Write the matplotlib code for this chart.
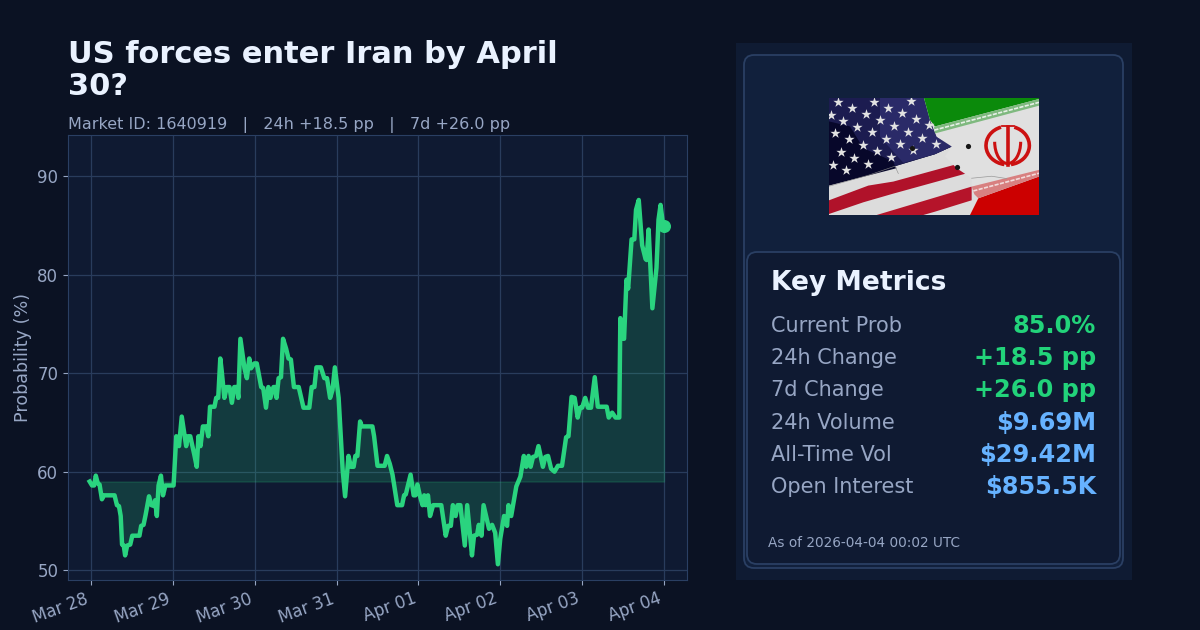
import matplotlib
matplotlib.use('Agg')
import matplotlib.pyplot as plt
import matplotlib.dates as mdates
from matplotlib.patches import FancyBboxPatch, Polygon, Rectangle, Arc
import pandas as pd

# hours after Mar 28 00:00
hours = [-0.4, 0.3, 0.9, 1.4, 2.0, 2.5, 3.2, 3.8, 4.5, 6.9, 7.6, 8.2, 8.7, 9.1, 9.6, 10.0, 10.6, 11.5, 12.1, 14.2,
         14.7, 15.4, 16.0, 17.0, 17.7, 18.6, 18.8, 19.3, 19.8, 20.5, 21.1, 21.8, 24.2, 25.0, 25.8, 26.6, 27.9, 28.4, 29.1, 30.3,
         31.0, 31.5, 32.1, 32.8, 33.8, 34.4, 34.9, 36.2, 36.7, 37.3, 37.9, 38.3, 39.1, 39.8, 40.6, 41.3, 42.0, 42.8, 43.2, 43.8,
         45.0, 45.7, 46.4, 46.9, 47.9, 48.6, 49.9, 50.5, 51.3, 52.0, 52.6, 53.5, 54.0, 54.4, 55.0, 55.7, 56.3, 57.2, 57.9, 58.6,
         59.5, 60.9, 62.3, 64.0, 64.7, 65.5, 66.1, 67.4, 68.4, 69.2, 70.1, 70.8, 71.5, 72.6, 73.8, 74.5, 75.5, 76.2, 77.0, 77.5,
         78.1, 78.9, 79.4, 82.5, 83.0, 84.0, 86.1, 86.8, 87.6, 88.4, 89.8, 91.2, 91.8, 92.3, 93.7, 94.6, 95.1, 95.7, 96.4, 97.2,
         97.7, 98.1, 98.8, 99.4, 100.3, 102.7, 104.0, 104.7, 105.5, 106.1, 106.9, 107.5, 108.3, 109.6, 110.3, 111.7, 112.3, 113.2, 113.7, 114.5,
         115.1, 116.7, 117.6, 118.5, 119.3, 120.0, 121.1, 122.0, 122.4, 123.2, 124.7, 125.9, 126.9, 127.6, 128.3, 128.9, 129.6, 130.5, 131.2, 132.5,
         133.2, 134.0, 134.9, 135.9, 136.9, 138.1, 139.3, 140.0, 140.9, 141.8, 142.7, 143.4, 144.0, 144.9, 145.7, 146.6, 147.7, 148.6, 151.2, 151.8,
         152.8, 153.8, 154.9, 155.2, 155.9, 156.3, 157.0, 157.5, 158.5, 159.3, 159.8, 160.6, 161.6, 162.6, 162.9, 163.5, 164.6, 165.8, 166.4, 167.0,
         167.6, 168.0]
probs = [59.0, 58.6, 58.6, 59.6, 58.8, 58.7, 57.2, 57.6, 57.6, 57.6, 56.6, 56.5, 55.5, 52.6, 52.5, 51.5, 52.5, 52.6, 53.5, 53.5,
         54.5, 54.6, 55.6, 57.5, 56.6, 56.5, 57.1, 55.5, 58.6, 59.6, 57.6, 58.6, 58.6, 63.6, 62.6, 65.6, 62.6, 63.6, 63.6, 61.7,
         60.5, 63.6, 62.6, 64.6, 64.6, 63.6, 66.6, 66.6, 67.5, 67.5, 71.5, 70.3, 67.5, 68.6, 68.6, 67.0, 68.6, 68.6, 67.5, 73.5,
         70.5, 69.5, 71.5, 70.5, 71.0, 71.0, 68.6, 68.5, 66.5, 68.6, 67.5, 68.6, 68.6, 67.5, 69.5, 69.6, 73.5, 72.5, 71.5, 71.4,
         68.6, 68.6, 66.5, 66.5, 68.6, 68.6, 70.6, 70.6, 69.5, 69.5, 67.5, 68.3, 70.6, 67.5, 60.1, 57.5, 61.6, 60.5, 60.5, 61.6,
         61.6, 65.1, 64.6, 64.6, 63.6, 60.6, 60.6, 61.6, 60.8, 59.7, 56.6, 56.6, 57.6, 57.7, 59.7, 57.6, 57.6, 58.7, 57.6, 56.6,
         57.6, 56.6, 57.6, 55.5, 56.6, 56.6, 53.5, 54.5, 54.5, 56.6, 55.5, 56.6, 56.6, 52.5, 56.6, 51.5, 53.5, 53.6, 54.6, 53.5,
         56.6, 54.2, 54.6, 53.8, 50.6, 53.2, 55.5, 54.5, 56.6, 55.5, 58.5, 59.5, 61.6, 60.5, 61.6, 60.5, 61.5, 61.6, 62.6, 60.5,
         61.5, 61.6, 60.3, 60.0, 60.6, 60.6, 63.5, 63.6, 67.6, 67.5, 65.5, 66.5, 66.5, 67.5, 66.5, 66.5, 69.6, 66.6, 66.6, 65.5,
         66.0, 65.5, 65.5, 75.6, 73.5, 73.5, 79.5, 78.6, 83.6, 83.6, 86.6, 87.6, 83.0, 81.6, 81.5, 84.6, 76.6, 80.7, 85.6, 87.1,
         85.4, 85.0]
baseline = 59.0
tick_days = ['2026-03-28', '2026-03-29', '2026-03-30', '2026-03-31', '2026-04-01', '2026-04-02', '2026-04-03', '2026-04-04']
y_ticks = [50, 60, 70, 80, 90]
metric_names = ['Current Prob', '24h Change', '7d Change', '24h Volume', 'All-Time Vol', 'Open Interest']
metric_values = ['85.0%', '+18.5 pp', '+26.0 pp', '$9.69M', '$29.42M', '$855.5K']

BG = '#0b1223'
PLOT_BG = '#0f1a32'
CARD = '#11203c'
PANEL = '#0f1b33'
EDGE = '#2a3f63'
GRID = '#293c5c'
MUTED = '#97a6c4'
GREEN = '#2ad47f'
VALUE_GREEN = '#22d37a'
BLUE = '#66b2ff'
WHITE = '#eaf2ff'

W, H = 1200, 630
fig = plt.figure(figsize=(12, 6.3), dpi=100, facecolor=BG)


def px_axes(x0, y0, x1, y1, **kw):
    return fig.add_axes([x0 / W, 1 - y1 / H, (x1 - x0) / W, (y1 - y0) / H], **kw)


# background layer in pixel coordinates, for the panel and all free text
bg = px_axes(0, 0, W, H)
bg.set_xlim(0, W)
bg.set_ylim(H, 0)
bg.axis('off')

bg.text(68, 70.5, 'US forces enter Iran by April\n30?', fontsize=22, fontweight='bold', color=WHITE,
        va='center', ha='left', linespacing=1.15)
bg.text(68, 125, 'Market ID: 1640919   |   24h +18.5 pp   |   7d +26.0 pp', fontsize=11.5, color=MUTED,
        va='center', ha='left')

bg.add_patch(Rectangle((736, 43), 396, 537, facecolor=PANEL, edgecolor='none'))
bg.add_patch(FancyBboxPatch((752, 63), 363, 497, boxstyle='round,pad=8,rounding_size=10',
                            facecolor=CARD, edgecolor=EDGE, lw=1.3))
bg.add_patch(FancyBboxPatch((755, 260), 357, 296, boxstyle='round,pad=8,rounding_size=10',
                            facecolor=PLOT_BG, edgecolor=EDGE, lw=1.3))

bg.text(771, 282.5, 'Key Metrics', fontsize=19.1, fontweight='bold', color=WHITE, va='center', ha='left')
for i, (name, val) in enumerate(zip(metric_names, metric_values)):
    y = 326 + i * 32.2
    col = VALUE_GREEN if i < 3 else BLUE
    bg.text(771, y, name, fontsize=15, color=MUTED, va='center', ha='left')
    bg.text(1096, y, val, fontsize=17.3, fontweight='bold', color=col, va='center', ha='right')
bg.text(768, 543, 'As of 2026-04-04 00:02 UTC', fontsize=9.85, color=MUTED, va='center', ha='left')

# main chart
ax = px_axes(68, 135, 687, 580, facecolor=PLOT_BG)
start = pd.Timestamp('2026-03-28')
times = [start + pd.Timedelta(hours=h) for h in hours]
ax.fill_between(times, probs, baseline, color=GREEN, alpha=0.18, lw=1)
ax.plot(times, probs, color=GREEN, lw=3.2, solid_joinstyle='round')
ax.scatter(times[-1:], probs[-1:], color=GREEN, s=70, zorder=5)

ax.set_xlim(start - pd.Timedelta(hours=6.75), start + pd.Timedelta(hours=174.75))
ax.set_ylim(49.0, 94.2)
ax.set_yticks(y_ticks)
ax.set_xticks([mdates.date2num(pd.Timestamp(d)) for d in tick_days])
ax.xaxis.set_major_formatter(mdates.DateFormatter('%b %d'))
ax.grid(True, color=GRID, lw=0.9)
ax.set_axisbelow(True)
ax.tick_params(axis='both', colors=MUTED, labelsize=12)
for lab in ax.get_xticklabels():
    lab.set_rotation(20)
    lab.set_ha('right')
for s in ax.spines.values():
    s.set_color(EDGE)
ax.set_ylabel('Probability (%)', fontsize=12.6, color=MUTED, labelpad=4)

# flag picture, rough shapes in zoomed crop units
fl = px_axes(829, 98, 1039, 215)
fl.set_xlim(297, 927)
fl.set_ylim(524, 174)
fl.axis('off')


def poly(pts, col, z=1, **kw):
    fl.add_patch(Polygon(pts, closed=True, facecolor=col, edgecolor='none', zorder=z, **kw))


fl.add_patch(Rectangle((297, 174), 630, 350, facecolor='#dcdcdc', zorder=0))
# US side
poly([(297, 174), (582, 174), (600, 240), (620, 290), (668, 318), (615, 342), (495, 378), (500, 384), (297, 436)], '#07072a')
poly([(297, 174), (582, 174), (600, 240), (620, 290), (668, 318), (615, 342), (495, 378), (490, 364), (400, 324), (360, 259), (297, 244)], '#1c1c50', z=2)
poly([(450, 174), (582, 174), (600, 240), (620, 290), (668, 318), (615, 342), (520, 368), (450, 290)], '#2a2a68', z=2)
poly([(297, 480), (415, 436), (490, 424), (680, 372), (708, 400), (490, 460), (400, 486), (297, 521)], '#b0122a', z=3)
poly([(440, 524), (725, 439), (725, 480), (615, 514), (580, 524)], '#b5142a', z=3)
# Iran side
poly([(582, 174), (927, 174), (927, 524), (720, 524), (745, 474), (725, 439), (725, 414), (680, 384), (645, 349), (665, 319), (620, 290), (600, 240)], '#e0e0e0', z=4)
poly([(582, 174), (927, 174), (927, 177), (615, 259), (600, 240)], '#0b8a0b', z=5)
poly([(612, 260), (927, 177), (927, 197), (615, 280)], '#7fb97f', z=5)
poly([(745, 474), (927, 409), (927, 524), (720, 524)], '#cc0000', z=5)
poly([(725, 439), (927, 389), (927, 409), (745, 474), (733, 462)], '#d88080', z=5)
# woven bands on the two Iranian stripes
fl.plot([613, 927], [270, 187], color='#e8f0e8', lw=1.2, ls=(0, (2.5, 0.8)), zorder=6)
fl.plot([730, 927], [452, 399], color='#f2dcdc', lw=1.2, ls=(0, (2.5, 0.8)), zorder=6)

star_x = [323, 433, 543, 367, 475, 517, 408, 340, 450, 558, 303, 382, 492, 598, 315, 425, 534, 357, 467, 575, 400, 510, 618, 332, 441, 550, 373, 483, 308, 415, 348]
star_y = [187, 185, 184, 205, 203, 220, 222, 242, 240, 237, 225, 260, 258, 255, 280, 277, 275, 297, 296, 293, 315, 313, 312, 335, 333, 330, 352, 350, 373, 372, 390]
fl.scatter(star_x, star_y, marker='*', s=60, color='#e2e2e2', linewidths=0, zorder=6)

# emblem
for (w, h, a1, a2) in [(130, 115, 100, 250), (130, 115, 290, 80)]:
    fl.add_patch(Arc((833, 316), w, h, theta1=a1, theta2=a2, color='#cc1111', lw=2.6, zorder=7))
fl.add_patch(Arc((833, 305), 78, 130, theta1=0, theta2=180, color='#cc1111', lw=2.2, zorder=7))
fl.plot([833, 833], [262, 375], color='#cc1111', lw=2.6, zorder=7)
fl.plot([815, 851], [258, 258], color='#cc1111', lw=1.3, zorder=7)

# cracks and chips
fl.plot([725, 785, 830], [414, 408, 415], color='#999999', lw=0.5, zorder=7)
fl.plot([297, 415, 495, 505], [438, 405, 378, 400], color='#888888', lw=0.4, zorder=7)
fl.scatter([715, 680, 545], [318, 380, 325], s=14, color='#151515', linewidths=0, zorder=7)

plt.savefig('out.png', dpi=100, facecolor=BG)
